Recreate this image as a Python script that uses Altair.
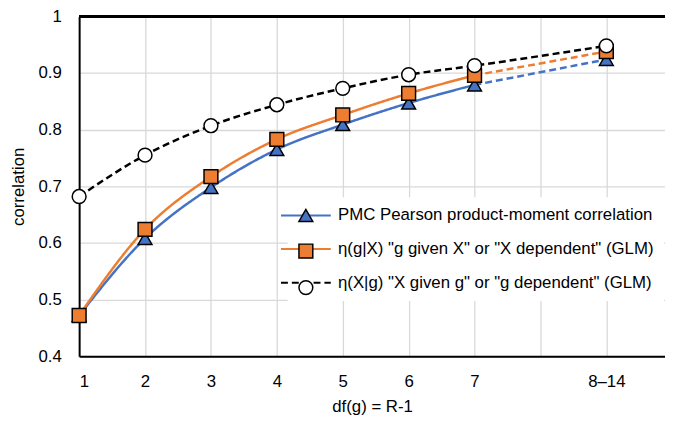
import altair as alt
import pandas as pd

# ---- data ----
categories = ["1", "2", "3", "4", "5", "6", "7", "8–14"]
x_codes = [1, 2, 3, 4, 5, 6, 7, 9]          # "8–14" sits after a gap
pmc = [0.472, 0.608, 0.698, 0.765, 0.809, 0.847, 0.879, 0.924]
eta_gX = [0.472, 0.624, 0.717, 0.783, 0.826, 0.864, 0.896, 0.938]
eta_Xg = [0.682, 0.755, 0.807, 0.844, 0.873, 0.897, 0.913, 0.948]
series_names = [
    "PMC Pearson product-moment correlation",
    'η(g|X) "g given X" or "X dependent" (GLM)',
    'η(X|g) "X given g" or "g dependent" (GLM)',
]
y_ticks = [0.4, 0.5, 0.6, 0.7, 0.8, 0.9, 1.0]

BLUE, ORANGE, BLACK = "#4472C4", "#ED7D31", "#000000"
FONT = "Liberation Sans"
FS = 17

# marker legend uses its own keys so it is not merged with the line legend
marker_keys = ["m " + s for s in series_names]

rows = []
for k, (name, vals) in enumerate(zip(series_names, [pmc, eta_gX, eta_Xg])):
    for c, xc, v in zip(categories, x_codes, vals):
        rows.append(dict(series=name, series_m=marker_keys[k], order_idx=k, cat=c, x=xc, y=v))
df = pd.DataFrame(rows)

last_cat = categories[-1]
main_lines = df[(df.series == series_names[2]) | (df.cat != last_cat)]
ext_lines = df[(df.series != series_names[2]) & (df.cat.isin([categories[-2], last_cat]))]

label_expr = "datum.value == 9 ? '8–14' : (datum.value == 8 ? '' : format(datum.value, 'd'))"

x_enc = alt.X(
    "x:Q",
    scale=alt.Scale(domain=[1, 9.89], nice=False, zero=False),
    axis=alt.Axis(
        title="df(g) = R-1", values=list(range(1, 10)), labelExpr=label_expr,
        ticks=False, grid=True, gridColor="#d9d9d9", gridWidth=1.3,
        domainColor="black", domainWidth=2, labelPadding=18, titlePadding=9,
        labelFontSize=FS, titleFontSize=FS, labelFont=FONT, titleFont=FONT,
        titleFontWeight="normal", labelColor="black", titleColor="black",
    ),
)
y_enc = alt.Y(
    "y:Q",
    scale=alt.Scale(domain=[0.4, 1.0], nice=False, zero=False),
    axis=alt.Axis(
        title="correlation", values=y_ticks, format=".1~f", ticks=False,
        grid=True, gridColor="#d9d9d9", gridWidth=1.3,
        domainColor="black", domainWidth=2, labelPadding=18, titlePadding=11,
        labelFontSize=FS, titleFontSize=FS, labelFont=FONT, titleFont=FONT,
        titleFontWeight="normal", labelColor="black", titleColor="black",
    ),
)

LX, LY, PAD = 211, 183, 10
common = dict(
    title=None, orient="none", legendX=LX, legendY=LY, padding=PAD,
    symbolSize=196, labelOffset=24, labelFontSize=FS, labelFont=FONT,
    labelLimit=0, rowPadding=16,
)
legend_lines = alt.Legend(
    symbolType="M-3.6,0H3.6", symbolStrokeWidth=2, labelColor="black",
    fillColor="white", zindex=1, **common,
)
legend_marks = alt.Legend(
    symbolStrokeWidth=1.5, symbolStrokeColor="black", symbolOpacity=1,
    labelExpr="' '", zindex=2, **common,
)

color_scale = alt.Scale(domain=series_names, range=[BLUE, ORANGE, BLACK])
dash_scale = alt.Scale(domain=series_names, range=[[1, 0], [1, 0], [7, 4]])

lines = alt.Chart(main_lines).mark_line(strokeWidth=2.5, interpolate="monotone").encode(
    x=x_enc, y=y_enc,
    color=alt.Color("series:N", scale=color_scale, legend=legend_lines),
    strokeDash=alt.StrokeDash("series:N", scale=dash_scale, legend=legend_lines),
)
ext = alt.Chart(ext_lines).mark_line(strokeWidth=2.5, strokeDash=[7, 4]).encode(
    x="x:Q", y="y:Q",
    color=alt.Color("series:N", scale=color_scale, legend=legend_lines),
)
top_rule = alt.Chart(df).mark_rule(color="black", strokeWidth=2).encode(y=alt.datum(1.0))
points = alt.Chart(df).mark_point(filled=True, size=196, strokeWidth=1.5, opacity=1).encode(
    x="x:Q", y="y:Q",
    fill=alt.Fill("series_m:N", scale=alt.Scale(domain=marker_keys, range=[BLUE, ORANGE, "white"]), legend=legend_marks),
    stroke=alt.Stroke("series_m:N", scale=alt.Scale(domain=marker_keys, range=[BLACK, BLACK, BLACK]), legend=legend_marks),
    shape=alt.Shape("series_m:N", scale=alt.Scale(domain=marker_keys, range=["triangle-up", "square", "circle"]), legend=legend_marks),
    order=alt.Order("order_idx:Q"),
)

chart = alt.layer(lines, ext, top_rule, points).properties(
    width=593, height=344,
    autosize=alt.AutoSizeParams(type="none"),
    padding={"left": 72, "top": 6, "right": 0, "bottom": 60},
).configure_view(stroke=None).configure(background="white")

chart.save("out.html", embed_options={"renderer": "svg", "actions": False})
